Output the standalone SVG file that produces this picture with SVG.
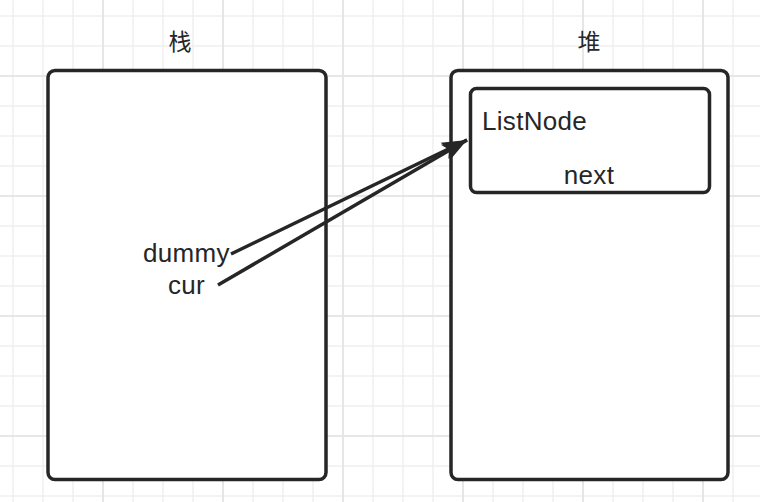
<svg xmlns="http://www.w3.org/2000/svg" width="760" height="502" viewBox="0 0 760 502">
<style>
.box{fill:#ffffff;stroke:#262626;stroke-width:3.5}
.t{font-family:"Liberation Sans","Noto Sans CJK SC",sans-serif;font-size:26px;letter-spacing:0.3px;fill:#262626}
.cjk{font-family:"Noto Sans CJK SC","Liberation Sans",sans-serif;font-size:23px;fill:#262626}
.edge{fill:none;stroke:#262626;stroke-width:3.5}
</style>
<defs>
<marker id="arr" markerUnits="userSpaceOnUse" markerWidth="30" markerHeight="30" viewBox="-26 -10 30 20" refX="0" refY="0" orient="auto">
<path d="M0,0 L-25,-9 L-20,0 L-25,9 Z" fill="#262626"/>
</marker>
</defs>
<rect width="760" height="502" fill="#ffffff"/>
<g id="grid" fill="none">
<path stroke="#efefef" stroke-width="1.5" d="M13,0V502M43,0V502M73,0V502M133,0V502M163,0V502M193,0V502M253,0V502M283,0V502M313,0V502M373,0V502M403,0V502M433,0V502M493,0V502M523,0V502M553,0V502M613,0V502M643,0V502M673,0V502M733,0V502M0,16H760M0,46H760M0,106H760M0,136H760M0,166H760M0,226H760M0,256H760M0,286H760M0,346H760M0,376H760M0,406H760M0,466H760M0,496H760"/>
<path stroke="#e6e6e6" stroke-width="2" d="M103,0V502M223,0V502M343,0V502M463,0V502M583,0V502M703,0V502M0,76H760M0,196H760M0,316H760M0,436H760"/>
</g>
<g id="stack">
<rect class="box" x="48" y="70.5" width="278" height="409" rx="7"/>
<text class="cjk" x="180" y="50" text-anchor="middle">栈</text>
</g>
<g id="heap">
<rect class="box" x="451" y="70.5" width="277" height="409" rx="7"/>
<text class="cjk" x="589" y="50" text-anchor="middle">堆</text>
</g>
<g id="listnode">
<rect class="box" x="470.5" y="88.5" width="239" height="104" rx="6"/>
<text class="t" x="482" y="130">ListNode</text>
<text class="t" x="589" y="184" text-anchor="middle">next</text>
</g>
<g id="dummy"><text class="t" x="143" y="262">dummy</text></g>
<g id="cur"><text class="t" x="168" y="294">cur</text></g>
<g id="connectors">
<path class="edge" d="M231,254 L467,140" marker-end="url(#arr)"/>
<path class="edge" d="M218,285 L467,140" marker-end="url(#arr)"/>
</g>
</svg>
